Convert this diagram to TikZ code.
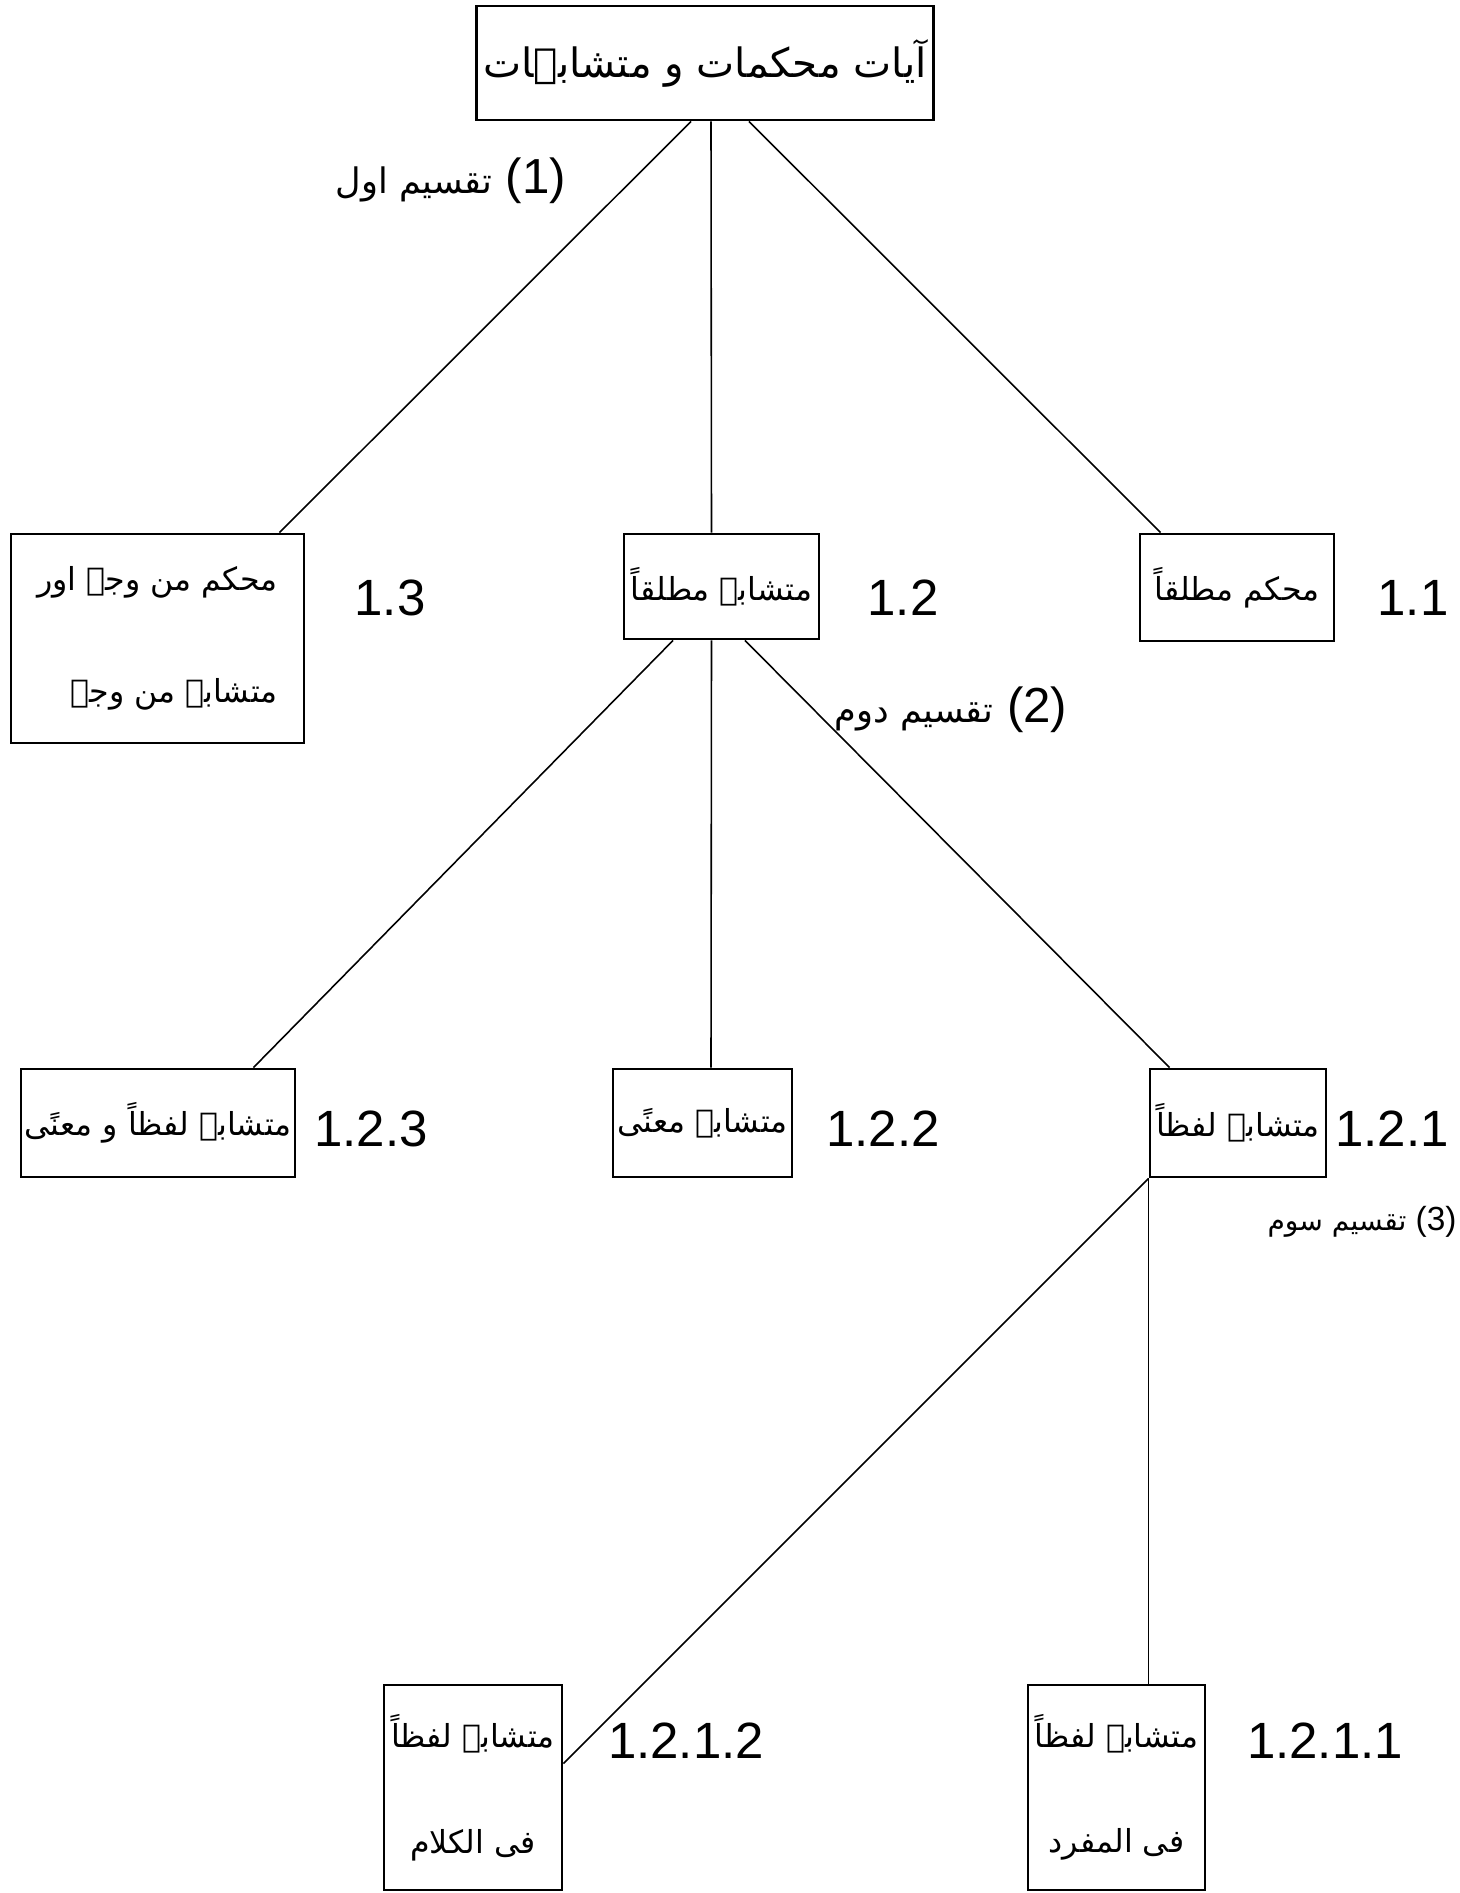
\documentclass[tikz,border=0pt]{standalone}
\usepackage{fontspec}
\setmainfont{Liberation Sans}
\newfontfamily\urdufont[Script=Arabic]{DejaVu Sans}
\TeXXeTstate=1
\usetikzlibrary{positioning, calc}

\newcommand{\ur}[1]{{\urdufont\beginR #1\endR}}

\begin{document}
\begin{tikzpicture}[x=0.01cm, y=-0.01cm,
    box/.style={draw, line width=0.8pt, inner sep=1pt, align=center,
                font=\fontsize{9}{30}\selectfont},
    num/.style={font=\fontsize{14.5}{17}\selectfont},
    tag/.style={font=\fontsize{14}{16}\selectfont},
    link/.style={line width=0.45pt}]
    \useasboundingbox (0,0) rectangle (1460,1893);

    % Root
    \node[box, minimum width=4.56cm, minimum height=1.14cm, font=\fontsize{11.5}{14}\selectfont]
        (root) at (705,63) {\ur{آیات محکمات و متشابہات}};

    % First division
    \node[box, minimum width=2.93cm, minimum height=2.09cm, align=right,
          font=\fontsize{9}{32}\selectfont] (m13) at (157.5,638.5)
        {\ur{محکم من وجہ اور}\\\ur{متشابہ من وجہ}};
    \node[box, minimum width=1.95cm, minimum height=1.05cm] (m12) at (721.5,586.5)
        {\ur{متشابہ مطلقاً}};
    \node[box, minimum width=1.94cm, minimum height=1.07cm] (m11) at (1237,587.5)
        {\ur{محکم مطلقاً}};

    % Second division
    \node[box, minimum width=2.62cm, minimum height=1.08cm] (m123) at (158,1123)
        {\ur{متشابہ لفظاً و معنًی}};
    \node[box, minimum width=1.79cm, minimum height=1.08cm] (m122) at (702.5,1123)
        {\ur{متشابہ معنًی}};
    \node[box, minimum width=1.76cm, minimum height=1.08cm] (m121) at (1238,1123)
        {\ur{متشابہ لفظاً}};

    % Third division
    \node[box, minimum width=1.78cm, minimum height=2.05cm] (m1212) at (473,1787.5)
        {\ur{متشابہ لفظاً}\\\ur{فی الکلام}};
    \node[box, minimum width=1.77cm, minimum height=2.05cm] (m1211) at (1116.5,1787.5)
        {\ur{متشابہ لفظاً}\\\ur{فی المفرد}};

    % Numbers
    \node[num] (n13) at (390,598) {1.3};
    \node[num] (n12) at (903,598) {1.2};
    \node[num] (n11) at (1413,598) {1.1};
    \node[num] (n123) at (371,1129) {1.2.3};
    \node[num] (n122) at (883,1129) {1.2.2};
    \node[num] (n121) at (1392,1129) {1.2.1};
    \node[num] (n1212) at (686,1741) {1.2.1.2};
    \node[num] (n1211) at (1325,1741) {1.2.1.1};

    % Division labels
    \node[tag] (d1) at (451,181) {{\fontsize{10}{12}\selectfont\ur{تقسیم اول}} (1)};
    \node[tag] (d2) at (951,710) {{\fontsize{10}{12}\selectfont\ur{تقسیم دوم}} (2)};
    \node[tag, font=\fontsize{9.5}{11}\selectfont] (d3) at (1362,1222)
        {{\fontsize{8}{10}\selectfont\ur{تقسیم سوم}} (3)};

    % Connectors
    \draw[link] ($(root.south)+(-14,0)$) -- ($(m13.north east)+(-26,0)$);
    \draw[link] ($(root.south)+(6,0)$) -- ($(m12.north)+(-10,0)$);
    \draw[link] ($(root.south)+(44,0)$) -- ($(m11.north west)+(22,0)$);
    \draw[link] ($(m12.south)+(-48.5,0)$) -- ($(m123.north east)+(-43,0)$);
    \draw[link] ($(m12.south)+(-10,0)$) -- ($(m122.north)+(8.5,0)$);
    \draw[link] ($(m12.south)+(23.5,0)$) -- ($(m121.north west)+(21,0)$);
    \draw[link] (m121.south west) -- ($(m1212.east)+(0,-24)$);
    \draw[link] (m121.south west) -- (m121.south west |- m1211.north);
\end{tikzpicture}
\end{document}
